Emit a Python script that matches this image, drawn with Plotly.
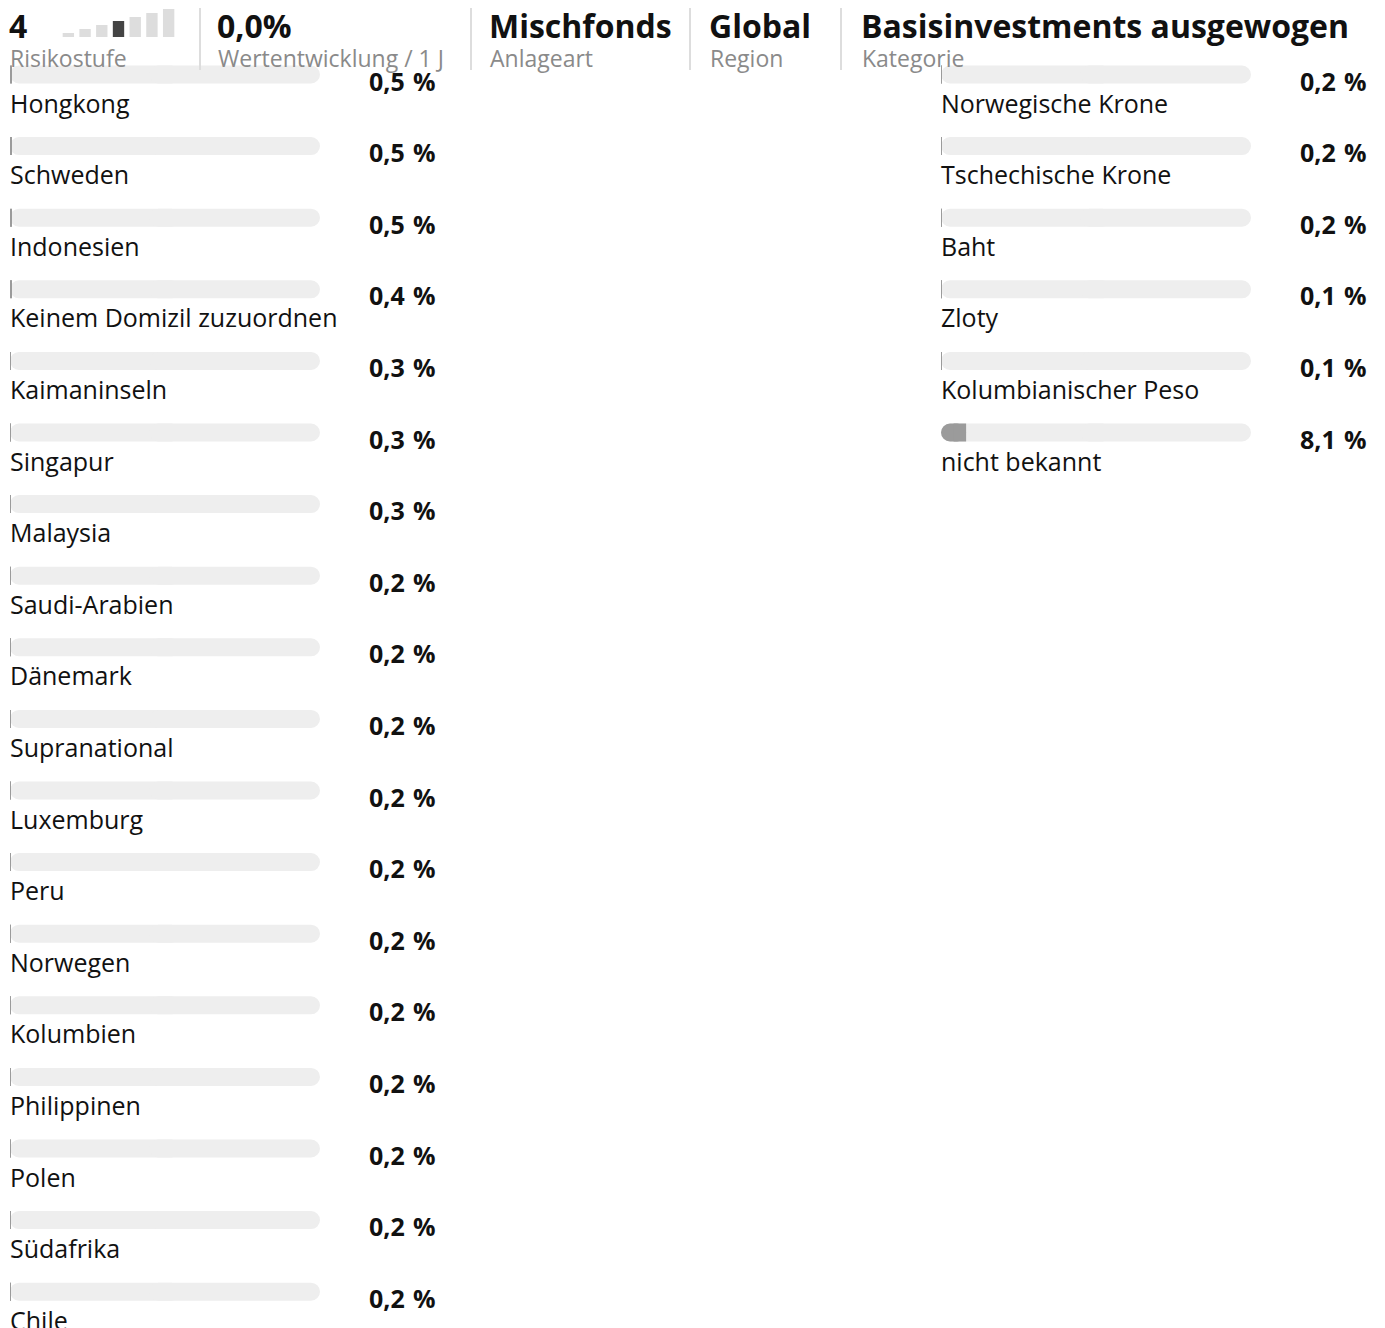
import plotly.graph_objects as go

# ---------------- data ----------------
countries = ["Hongkong", "Schweden", "Indonesien", "Keinem Domizil zuzuordnen",
             "Kaimaninseln", "Singapur", "Malaysia", "Saudi-Arabien", "Dänemark",
             "Supranational", "Luxemburg", "Peru", "Norwegen", "Kolumbien",
             "Philippinen", "Polen", "Südafrika", "Chile"]
country_values = [0.5, 0.5, 0.5, 0.4, 0.3, 0.3, 0.3, 0.2, 0.2,
                  0.2, 0.2, 0.2, 0.2, 0.2, 0.2, 0.2, 0.2, 0.2]

currencies = ["Norwegische Krone", "Tschechische Krone", "Baht", "Zloty",
              "Kolumbianischer Peso", "nicht bekannt"]
currency_values = [0.2, 0.2, 0.2, 0.1, 0.1, 8.1]

risk_levels = [1, 2, 3, 4, 5, 6, 7]
current_risk = 4

header_values = ["4", "0,0%", "Mischfonds", "Global", "Basisinvestments ausgewogen"]
header_labels = ["Risikostufe", "Wertentwicklung / 1 J", "Anlageart", "Region", "Kategorie"]

# ---------------- layout constants ----------------
W, H = 1385, 1328
OFF = 8                          # page body margin
ROW0, STEP = 74.5, 71.6          # pixel centre of first row, row pitch (screen px)
BAR_PX = 18
TRACK = "#eeeeee"
FILL = "#9b9b9b"
LABEL_FONT = "Open Sans"
BOLD_FONT = "Open Sans"
FULL = 100


def px_x(p):
    return (p - OFF) / W


def px_y(p):
    return 1 - (p - OFF) / H


y_top = (ROW0 - OFF) / STEP
y_bot = -(H - (ROW0 - OFF)) / STEP
bar_w = BAR_PX / STEP

fig = go.Figure()


def add_column(names, vals, xa, ya):
    n = len(names)
    ys = [-i for i in range(n)]
    lo, hi = FULL * 0.55, FULL * 0.45
    # track: two overlapping halves so that both ends are rounded
    fig.add_trace(go.Bar(x=[-lo] * n, base=[lo] * n, y=ys, orientation="h", width=bar_w,
                         marker=dict(color=TRACK, line=dict(width=0), cornerradius=9),
                         xaxis=xa, yaxis=ya, hoverinfo="skip", showlegend=False))
    fig.add_trace(go.Bar(x=[FULL - hi] * n, base=[hi] * n, y=ys, orientation="h", width=bar_w,
                         marker=dict(color=TRACK, line=dict(width=0), cornerradius=9),
                         xaxis=xa, yaxis=ya, hoverinfo="skip", showlegend=False))
    # value fill: rounded at the left end ...
    fig.add_trace(go.Bar(x=[-v for v in vals], base=vals, y=ys, orientation="h", width=bar_w,
                         marker=dict(color=FILL, line=dict(width=0), cornerradius=9),
                         xaxis=xa, yaxis=ya, showlegend=False,
                         hovertext=[f"{nm}: {v} %" for nm, v in zip(names, vals)],
                         hoverinfo="text"))
    # ... and square at the right end
    fig.add_trace(go.Bar(x=[v / 2 for v in vals], base=[v / 2 for v in vals], y=ys,
                         orientation="h", width=bar_w,
                         marker=dict(color=FILL, line=dict(width=0), cornerradius=0),
                         xaxis=xa, yaxis=ya, showlegend=False, hoverinfo="skip"))
    return ys


add_column(countries, country_values, "x", "y")
add_column(currencies, currency_values, "x2", "y")

# risk indicator bars
fig.add_trace(go.Bar(x=risk_levels, y=risk_levels, width=0.68,
                     marker=dict(color=["#444444" if r == current_risk else "#dddddd" for r in risk_levels],
                                 line=dict(width=0), cornerradius=0),
                     xaxis="x3", yaxis="y3", showlegend=False, hoverinfo="skip"))

annotations = []


def col_annotations(names, vals, xref, value_right_px):
    for i, (n, v) in enumerate(zip(names, vals)):
        annotations.append(dict(x=0, y=-i, xref=xref, yref="y", text=n, showarrow=False,
                                xanchor="left", yanchor="middle", yshift=-28, xshift=-2,
                                font=dict(family=LABEL_FONT, size=25, color="#111111")))
        annotations.append(dict(x=px_x(value_right_px), y=-i, xref="paper", yref="y",
                                text=f"{v:.1f}".replace(".", ",") + "\u2009\u2009%", showarrow=False,
                                xanchor="right", yanchor="middle", yshift=-6,
                                font=dict(family=BOLD_FONT, size=25, color="#111111", weight="bold")))


col_annotations(countries, country_values, "x", 438)
col_annotations(currencies, currency_values, "x2", 1369)

# header
header_x = [10, 218, 490, 710, 862]
for hx, hv, hl in zip(header_x, header_values, header_labels):
    annotations.append(dict(x=px_x(hx - 3), y=px_y(25), xref="paper", yref="paper", text=hv,
                            showarrow=False, xanchor="left", yanchor="middle",
                            font=dict(family=BOLD_FONT, size=32, color="#111111", weight="bold")))
    annotations.append(dict(x=px_x(hx - 2), y=px_y(58), xref="paper", yref="paper", text=hl,
                            showarrow=False, xanchor="left", yanchor="middle",
                            font=dict(family=LABEL_FONT, size=23, color="#8a8a8a")))

shapes = []
for dx in [200, 471, 690, 841]:
    shapes.append(dict(type="line", xref="paper", yref="paper",
                       x0=px_x(dx), x1=px_x(dx), y0=px_y(7), y1=px_y(70),
                       line=dict(color="#dddddd", width=2)))

fig.update_layout(
    width=W, height=H,
    margin=dict(l=0, r=0, t=0, b=0),
    paper_bgcolor="white", plot_bgcolor="white",
    barmode="overlay",
    xaxis=dict(domain=[px_x(10), px_x(320)], range=[0, FULL], visible=False, fixedrange=True),
    xaxis2=dict(domain=[px_x(941), px_x(1251)], range=[0, FULL], visible=False, fixedrange=True),
    yaxis=dict(domain=[0, 1], range=[y_bot, y_top], visible=False, fixedrange=True),
    xaxis3=dict(domain=[px_x(60), px_x(177)], range=[0.5, 7.5], visible=False, fixedrange=True),
    yaxis3=dict(domain=[px_y(37), px_y(9)], range=[0, 7], visible=False, fixedrange=True),
    annotations=annotations,
    shapes=shapes,
)

fig.write_html("out.html")
